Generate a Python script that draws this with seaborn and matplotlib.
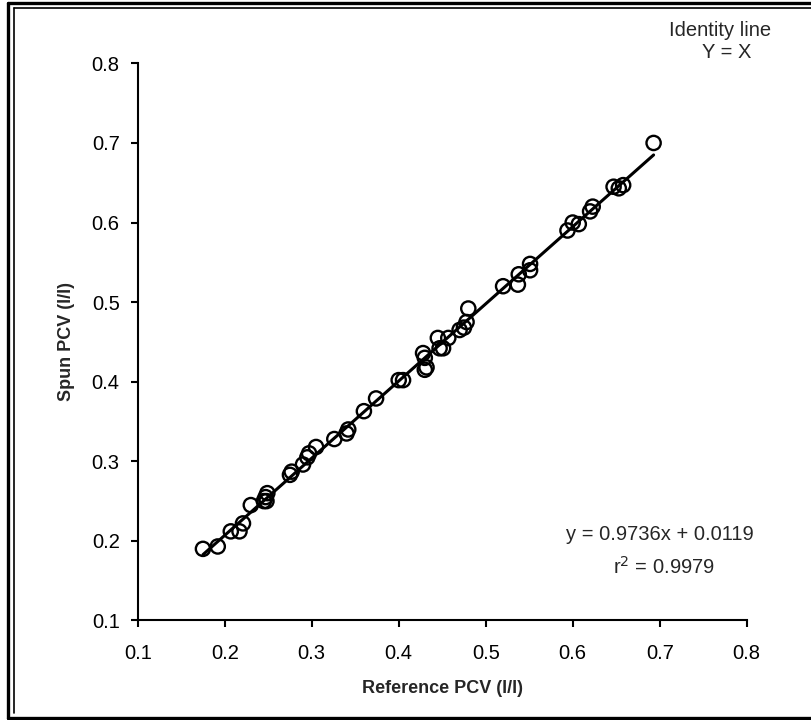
import matplotlib
matplotlib.use("Agg")
import matplotlib.pyplot as plt
import seaborn as sns
import pandas as pd
from matplotlib.lines import Line2D

reference_pcv = [0.175, 0.192, 0.207, 0.217, 0.221, 0.230, 0.245, 0.247, 0.249, 0.248,
                 0.275, 0.277, 0.290, 0.295, 0.297, 0.305, 0.326, 0.340, 0.342, 0.360,
                 0.374, 0.400, 0.405, 0.428, 0.430, 0.430, 0.432, 0.445, 0.447, 0.451,
                 0.457, 0.470, 0.475, 0.478, 0.480, 0.520, 0.537, 0.538, 0.551, 0.551,
                 0.594, 0.600, 0.607, 0.620, 0.623, 0.647, 0.653, 0.658, 0.693]
spun_pcv = [0.190, 0.193, 0.212, 0.212, 0.222, 0.245, 0.250, 0.255, 0.260, 0.250,
            0.283, 0.287, 0.296, 0.305, 0.310, 0.318, 0.328, 0.335, 0.340, 0.363,
            0.379, 0.402, 0.402, 0.436, 0.430, 0.415, 0.418, 0.455, 0.442, 0.442,
            0.455, 0.465, 0.468, 0.475, 0.492, 0.520, 0.522, 0.535, 0.540, 0.548,
            0.590, 0.600, 0.598, 0.614, 0.620, 0.645, 0.643, 0.647, 0.700]
ticks = [0.1, 0.2, 0.3, 0.4, 0.5, 0.6, 0.7, 0.8]
tick_labels = ["0.1", "0.2", "0.3", "0.4", "0.5", "0.6", "0.7", "0.8"]

df = pd.DataFrame({"Reference PCV (l/l)": reference_pcv, "Spun PCV (l/l)": spun_pcv})

sns.set_theme(style="white")
plt.rcParams["font.family"] = ["Liberation Sans", "DejaVu Sans"]

fig = plt.figure(figsize=(8.11, 7.2), dpi=100)
ax = fig.add_axes([0.1698, 0.1382, 0.7509, 0.7738])

sns.regplot(data=df, x="Reference PCV (l/l)", y="Spun PCV (l/l)", ax=ax, ci=None,
            scatter_kws=dict(marker="o", s=105, facecolors="none", edgecolors="black",
                             linewidths=1.7, alpha=1, zorder=3),
            line_kws=dict(color="black", lw=2.2, zorder=2))

ax.set_xlim(0.1, 0.8)
ax.set_ylim(0.1, 0.8)
ax.set_xticks(ticks)
ax.set_xticklabels(tick_labels)
ax.set_yticks(ticks)
ax.set_yticklabels(tick_labels)
ax.tick_params(axis="both", direction="out", length=5, width=1.5, color="black",
               labelsize=14.5, labelcolor="black", pad=8, bottom=True, left=True)
ax.tick_params(axis="x", pad=12)
for side in ["top", "right"]:
    ax.spines[side].set_visible(False)
for side in ["left", "bottom"]:
    ax.spines[side].set_color("black")
    ax.spines[side].set_linewidth(1.5)

ax.set_xlabel("Reference PCV (l/l)", fontsize=13, fontweight="bold", labelpad=12)
ax.set_ylabel("Spun PCV (l/l)", fontsize=13, fontweight="bold", labelpad=12)

fs = 14.5
fig.text(720 / 811, 1 - 30 / 720, "Identity line", ha="center", va="center", fontsize=fs)
fig.text(727 / 811, 1 - 53 / 720, "Y = X", ha="center", va="center", fontsize=fs)
fig.text(660 / 811, 1 - 534 / 720, "y = 0.9736x + 0.0119", ha="center", va="center", fontsize=fs)
fig.text(664 / 811, 1 - 567 / 720, r"r$^2$ = 0.9979", ha="center", va="center", fontsize=fs)

W, H = 811, 720
def fx(p): return p / W
def fy(p): return 1 - p / H
# outer thick frame
fig.add_artist(Line2D([fx(8), fx(8)], [fy(3), fy(718)], color="black", lw=2.4))
fig.add_artist(Line2D([fx(8), fx(811)], [fy(3), fy(3)], color="black", lw=2.4))
fig.add_artist(Line2D([fx(8), fx(811)], [fy(718), fy(718)], color="black", lw=2.4))
# inner thin frame
fig.add_artist(Line2D([fx(13.5), fx(13.5)], [fy(7.5), fy(713)], color="black", lw=1.2))
fig.add_artist(Line2D([fx(13.5), fx(811)], [fy(7.5), fy(7.5)], color="black", lw=1.2))

fig.savefig("out.png", dpi=100)
